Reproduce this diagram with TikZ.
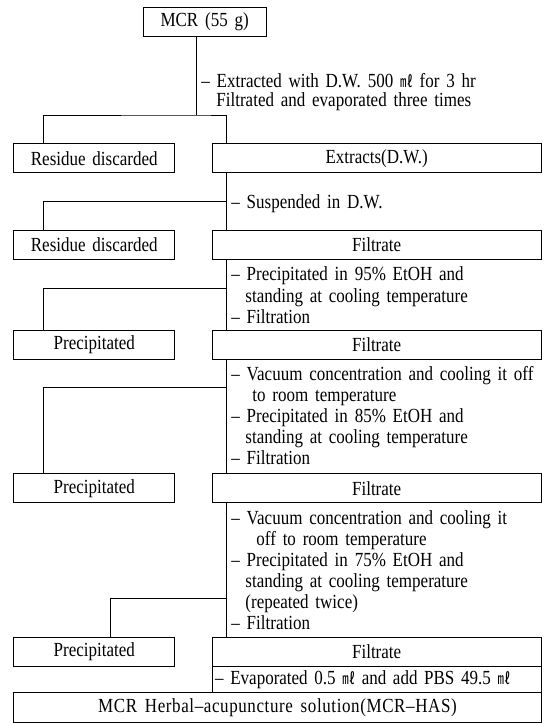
\documentclass[tikz,border=0pt]{standalone}
\usepackage{fontspec}
\setmainfont[FakeStretch=0.85,WordSpace=1.6]{Liberation Serif}
\newfontfamily\widefont[FakeStretch=0.85,WordSpace=1.6,LetterSpace=3]{Liberation Serif}
\newfontfamily\cjkfont[FakeStretch=0.8]{Noto Sans CJK KR}
\newcommand\mlunit{\smash{\cjkfont\fontsize{16}{16}\selectfont ㎖}}
\begin{document}
\begin{tikzpicture}[x=1pt,y=-1pt,font=\fontsize{20}{21}\selectfont,line width=0.9pt,
  box/.style={draw,inner sep=0pt,anchor=north west,minimum height=29pt},
  lbox/.style={box,minimum width=161pt},
  rbox/.style={box,minimum width=329pt},
  lbl/.style={anchor=base west,inner sep=0pt}]
\useasboundingbox (0,0) rectangle (551,723);
% boxes
\node[box,minimum width=123pt] (mcr) at (142.7,6.7) {MCR (55 g)};
\node[lbox] (res1) at (13.3,143.3) {Residue discarded};
\node[rbox] (ext) at (211.7,143.3) {Extracts(D.W.)};
\node[lbox] (res2) at (13.3,230) {Residue discarded};
\node[rbox] (fil1) at (211.7,230) {Filtrate};
\node[lbox] (pre1) at (13.3,329.5) {Precipitated};
\node[rbox] (fil2) at (211.7,329.5) {Filtrate};
\node[lbox] (pre2) at (13.3,473.3) {Precipitated};
\node[rbox] (fil3) at (211.7,473.3) {Filtrate};
\node[lbox] (pre3) at (13.3,637) {Precipitated};
\node[rbox] (fil4) at (211.7,637) {Filtrate};
\node[box,minimum height=26pt,text width=323pt,inner xsep=3pt,align=left] (evap) at (211.7,666) {– Evaporated 0.5 \mlunit{} and add PBS 49.5 \mlunit};
\node[box,minimum width=527.4pt,minimum height=29.5pt,font=\widefont\fontsize{20}{21}\selectfont] (fin) at (13.3,692) {MCR Herbal–acupuncture solution(MCR–HAS)};
% junction coordinates
\coordinate (j1) at (196.7,115);
\coordinate (j2) at (226.7,201);
\coordinate (j3) at (226.7,288);
\coordinate (j4) at (226.7,387);
\coordinate (j5) at (226.7,598);
% connectors
\draw ([xshift=54pt]mcr.south west) -- (j1);
\draw ([xshift=30pt]res1.north west) |- (j1) -| ([xshift=15pt]ext.north west);
\draw ([xshift=15pt]ext.south west) -- ([xshift=15pt]fil1.north west);
\draw ([xshift=30pt]res2.north west) |- (j2);
\draw ([xshift=15pt]fil1.south west) -- ([xshift=15pt]fil2.north west);
\draw ([xshift=30pt]pre1.north west) |- (j3);
\draw ([xshift=15pt]fil2.south west) -- ([xshift=15pt]fil3.north west);
\draw ([xshift=30pt]pre2.north west) |- (j4);
\draw ([xshift=15pt]fil3.south west) -- ([xshift=15pt]fil4.north west);
\draw ([xshift=97.4pt]pre3.north west) |- (j5);
% labels
\node[lbl] (a1) at (201,87) {– Extracted with D.W. 500 \mlunit{} for 3 hr};
\node[lbl] (a2) at (216,106) {Filtrated and evaporated three times};
\node[lbl] (b1) at (231,208) {– Suspended in D.W.};
\node[lbl] (c1) at (231,280.5) {– Precipitated in 95\% EtOH and};
\node[lbl] (c2) at (245,302) {standing at cooling temperature};
\node[lbl] (c3) at (231,323) {– Filtration};
\node[lbl] (d1) at (231,380) {– Vacuum concentration and cooling it off};
\node[lbl] (d2) at (252,401) {to room temperature};
\node[lbl] (d3) at (231,422) {– Precipitated in 85\% EtOH and};
\node[lbl] (d4) at (245,443) {standing at cooling temperature};
\node[lbl] (d5) at (231,464) {– Filtration};
\node[lbl] (e1) at (231,524) {– Vacuum concentration and cooling it};
\node[lbl] (e2) at (256,545) {off to room temperature};
\node[lbl] (e3) at (231,566) {– Precipitated in 75\% EtOH and};
\node[lbl] (e4) at (245,587) {standing at cooling temperature};
\node[lbl] (e5) at (245,608) {(repeated twice)};
\node[lbl] (e6) at (231,629) {– Filtration};
\end{tikzpicture}
\end{document}
